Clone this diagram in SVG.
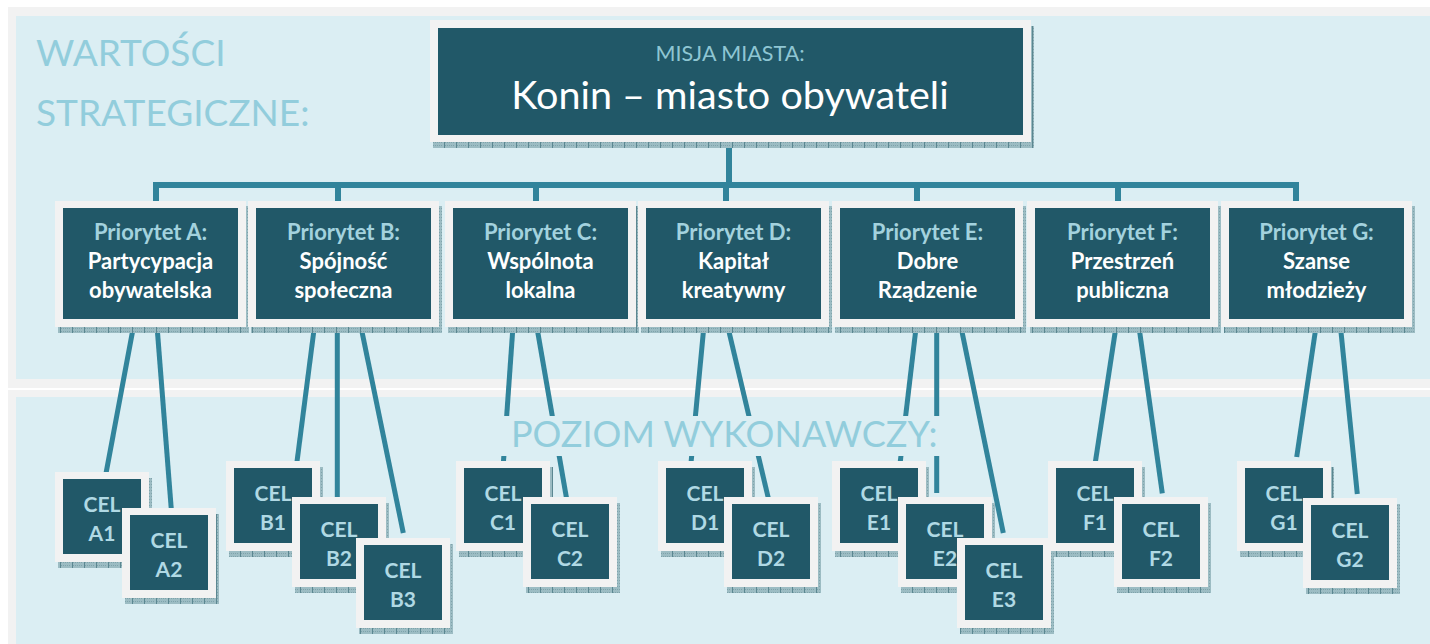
<svg xmlns="http://www.w3.org/2000/svg" width="1430" height="644" viewBox="0 0 1430 644">
<defs>
<pattern id="hatch" patternUnits="userSpaceOnUse" width="12" height="6">
<rect width="12" height="6" fill="#9cbcc3"/>
<path d="M1,1.5h10M1,4.5h10" stroke="#7fa3ab" stroke-width="1" stroke-dasharray="1 1"/>
<path d="M0.5,0V6" stroke="#5b8791" stroke-width="1"/>
</pattern>
<style>
.frame{fill:#f2f2f2}
.dark{fill:#215868}
.sh{fill:url(#hatch)}
.conn{stroke:#31849b;stroke-width:5;fill:none}
.tree{stroke:#31849b;stroke-width:6;fill:none;stroke-linejoin:miter}
.title{font-family:Lato,"Open Sans",sans-serif;font-weight:400;font-size:37px;fill:#92cddc}
.plab{font-family:Lato,"Open Sans",sans-serif;font-weight:700;font-size:22px;fill:#a3d2de;text-anchor:middle}
.pname{font-family:Lato,"Open Sans",sans-serif;font-weight:700;font-size:22px;fill:#ffffff;text-anchor:middle}
.cel{font-family:Lato,"Open Sans",sans-serif;font-weight:700;font-size:21px;fill:#b0d9e4;text-anchor:middle}
</style>
</defs>
<rect width="1430" height="644" fill="#ffffff"/>
<g id="panels">
<rect x="8" y="7" width="1430" height="381" fill="#f2f2f2"/>
<rect x="16" y="16" width="1420" height="363" fill="#dbeef3"/>
<rect x="8" y="390" width="1430" height="260" fill="#f2f2f2"/>
<rect x="16" y="397" width="1420" height="260" fill="#dbeef3"/>
</g>
<g id="title-values">
<text class="title" x="36" y="66">WARTOŚCI</text>
<text class="title" x="36" y="126">STRATEGICZNE:</text>
</g>
<g id="connectors">
<path class="tree" d="M729,140 V185"/>
<path class="tree" d="M156,205 V185 H1296 V205"/>
<path class="tree" d="M338,185 V205 M536,185 V205 M726,185 V205 M917,185 V205 M1118,185 V205"/>
<line class="conn" x1="134.3" y1="322" x2="105.7" y2="475"/>
<line class="conn" x1="156.7" y1="322" x2="171.5" y2="512"/>
<line class="conn" x1="315" y1="322" x2="296.7" y2="464"/>
<line class="conn" x1="337.3" y1="322" x2="337.3" y2="501"/>
<line class="conn" x1="360" y1="322" x2="403.3" y2="533"/>
<line class="conn" x1="513.3" y1="322" x2="503.3" y2="464"/>
<line class="conn" x1="536" y1="322" x2="567" y2="501"/>
<line class="conn" x1="704.3" y1="322" x2="690.9" y2="464"/>
<line class="conn" x1="726.7" y1="322" x2="769" y2="501"/>
<line class="conn" x1="916.7" y1="322" x2="900" y2="464"/>
<line class="conn" x1="936.7" y1="322" x2="936.7" y2="493"/>
<line class="conn" x1="960" y1="322" x2="1003.3" y2="533"/>
<line class="conn" x1="1116.7" y1="322" x2="1095" y2="464.3"/>
<line class="conn" x1="1138.3" y1="322" x2="1162.3" y2="493.3"/>
<line class="conn" x1="1316.7" y1="322" x2="1296.7" y2="457"/>
<line class="conn" x1="1340" y1="322" x2="1357.3" y2="494"/>
</g>
<g id="title-level">
<rect x="498" y="416" width="447" height="40" fill="#dbeef3"/>
<text class="title" x="511" y="447" style="font-size:36px">POZIOM WYKONAWCZY:</text>
</g>
<g id="mission">
<rect class="sh" x="433" y="26" width="601" height="122"/>
<rect class="frame" x="430" y="20" width="601" height="122"/>
<rect class="dark" x="438" y="28" width="585" height="107"/>
<text x="730" y="61" text-anchor="middle" font-family="Lato, 'Open Sans', sans-serif" font-size="21.5" fill="#8fc6d3">MISJA MIASTA:</text>
<text x="730" y="109" text-anchor="middle" font-family="Lato, 'Open Sans', sans-serif" font-size="39.5" fill="#ffffff">Konin – miasto obywateli</text>
</g>
<g id="prio-A">
<rect class="sh" x="58" y="206" width="191" height="127"/><rect class="frame" x="55" y="201" width="191" height="126"/><rect class="dark" x="63" y="208" width="175" height="111"/>
<text class="plab" x="150.5" y="240">Priorytet A:</text><text class="pname" x="150.5" y="269">Partycypacja</text><text class="pname" x="150.5" y="298">obywatelska</text>
</g>
<g id="prio-B">
<rect class="sh" x="251" y="206" width="191" height="127"/><rect class="frame" x="248" y="201" width="191" height="126"/><rect class="dark" x="256" y="208" width="175" height="111"/>
<text class="plab" x="343.5" y="240">Priorytet B:</text><text class="pname" x="343.5" y="269">Spójność</text><text class="pname" x="343.5" y="298">społeczna</text>
</g>
<g id="prio-C">
<rect class="sh" x="448" y="206" width="191" height="127"/><rect class="frame" x="445" y="201" width="191" height="126"/><rect class="dark" x="453" y="208" width="175" height="111"/>
<text class="plab" x="540.5" y="240">Priorytet C:</text><text class="pname" x="540.5" y="269">Wspólnota</text><text class="pname" x="540.5" y="298">lokalna</text>
</g>
<g id="prio-D">
<rect class="sh" x="641" y="206" width="191" height="127"/><rect class="frame" x="638" y="201" width="191" height="126"/><rect class="dark" x="646" y="208" width="175" height="111"/>
<text class="plab" x="733.5" y="240">Priorytet D:</text><text class="pname" x="733.5" y="269">Kapitał</text><text class="pname" x="733.5" y="298">kreatywny</text>
</g>
<g id="prio-E">
<rect class="sh" x="835" y="206" width="191" height="127"/><rect class="frame" x="832" y="201" width="191" height="126"/><rect class="dark" x="840" y="208" width="175" height="111"/>
<text class="plab" x="927.5" y="240">Priorytet E:</text><text class="pname" x="927.5" y="269">Dobre</text><text class="pname" x="927.5" y="298">Rządzenie</text>
</g>
<g id="prio-F">
<rect class="sh" x="1030" y="206" width="191" height="127"/><rect class="frame" x="1027" y="201" width="191" height="126"/><rect class="dark" x="1035" y="208" width="175" height="111"/>
<text class="plab" x="1122.5" y="240">Priorytet F:</text><text class="pname" x="1122.5" y="269">Przestrzeń</text><text class="pname" x="1122.5" y="298">publiczna</text>
</g>
<g id="prio-G">
<rect class="sh" x="1224" y="206" width="191" height="127"/><rect class="frame" x="1221" y="201" width="191" height="126"/><rect class="dark" x="1229" y="208" width="175" height="111"/>
<text class="plab" x="1316.5" y="240">Priorytet G:</text><text class="pname" x="1316.5" y="269">Szanse</text><text class="pname" x="1316.5" y="298">młodzieży</text>
</g>
<g id="cel-A1"><rect class="sh" x="58" y="478" width="94" height="90"/><rect class="frame" x="55" y="472" width="94" height="90"/><rect class="dark" x="63" y="479" width="78" height="75"/><text class="cel" x="102" y="512">CEL</text><text class="cel" x="102" y="541">A1</text></g>
<g id="cel-A2"><rect class="sh" x="125" y="514" width="94" height="90"/><rect class="frame" x="122" y="508" width="94" height="90"/><rect class="dark" x="130" y="515" width="78" height="75"/><text class="cel" x="169" y="548">CEL</text><text class="cel" x="169" y="577">A2</text></g>
<g id="cel-B1"><rect class="sh" x="229" y="467" width="94" height="90"/><rect class="frame" x="226" y="461" width="94" height="90"/><rect class="dark" x="234" y="468" width="78" height="75"/><text class="cel" x="273" y="501">CEL</text><text class="cel" x="273" y="530">B1</text></g>
<g id="cel-B2"><rect class="sh" x="295" y="503" width="94" height="90"/><rect class="frame" x="292" y="497" width="94" height="90"/><rect class="dark" x="300" y="504" width="78" height="75"/><text class="cel" x="339" y="537">CEL</text><text class="cel" x="339" y="566">B2</text></g>
<g id="cel-B3"><rect class="sh" x="359" y="544" width="94" height="90"/><rect class="frame" x="356" y="538" width="94" height="90"/><rect class="dark" x="364" y="545" width="78" height="75"/><text class="cel" x="403" y="578">CEL</text><text class="cel" x="403" y="607">B3</text></g>
<g id="cel-C1"><rect class="sh" x="459" y="467" width="94" height="90"/><rect class="frame" x="456" y="461" width="94" height="90"/><rect class="dark" x="464" y="468" width="78" height="75"/><text class="cel" x="503" y="501">CEL</text><text class="cel" x="503" y="530">C1</text></g>
<g id="cel-C2"><rect class="sh" x="526" y="503" width="94" height="90"/><rect class="frame" x="523" y="497" width="94" height="90"/><rect class="dark" x="531" y="504" width="78" height="75"/><text class="cel" x="570" y="537">CEL</text><text class="cel" x="570" y="566">C2</text></g>
<g id="cel-D1"><rect class="sh" x="661" y="467" width="94" height="90"/><rect class="frame" x="658" y="461" width="94" height="90"/><rect class="dark" x="666" y="468" width="78" height="75"/><text class="cel" x="705" y="501">CEL</text><text class="cel" x="705" y="530">D1</text></g>
<g id="cel-D2"><rect class="sh" x="727" y="503" width="94" height="90"/><rect class="frame" x="724" y="497" width="94" height="90"/><rect class="dark" x="732" y="504" width="78" height="75"/><text class="cel" x="771" y="537">CEL</text><text class="cel" x="771" y="566">D2</text></g>
<g id="cel-E1"><rect class="sh" x="835" y="467" width="94" height="90"/><rect class="frame" x="832" y="461" width="94" height="90"/><rect class="dark" x="840" y="468" width="78" height="75"/><text class="cel" x="879" y="501">CEL</text><text class="cel" x="879" y="530">E1</text></g>
<g id="cel-E2"><rect class="sh" x="901" y="503" width="94" height="90"/><rect class="frame" x="898" y="497" width="94" height="90"/><rect class="dark" x="906" y="504" width="78" height="75"/><text class="cel" x="945" y="537">CEL</text><text class="cel" x="945" y="566">E2</text></g>
<g id="cel-E3"><rect class="sh" x="960" y="544" width="94" height="90"/><rect class="frame" x="957" y="538" width="94" height="90"/><rect class="dark" x="965" y="545" width="78" height="75"/><text class="cel" x="1004" y="578">CEL</text><text class="cel" x="1004" y="607">E3</text></g>
<g id="cel-F1"><rect class="sh" x="1051" y="467" width="94" height="90"/><rect class="frame" x="1048" y="461" width="94" height="90"/><rect class="dark" x="1056" y="468" width="78" height="75"/><text class="cel" x="1095" y="501">CEL</text><text class="cel" x="1095" y="530">F1</text></g>
<g id="cel-F2"><rect class="sh" x="1117" y="503" width="94" height="90"/><rect class="frame" x="1114" y="497" width="94" height="90"/><rect class="dark" x="1122" y="504" width="78" height="75"/><text class="cel" x="1161" y="537">CEL</text><text class="cel" x="1161" y="566">F2</text></g>
<g id="cel-G1"><rect class="sh" x="1240" y="467" width="94" height="90"/><rect class="frame" x="1237" y="461" width="94" height="90"/><rect class="dark" x="1245" y="468" width="78" height="75"/><text class="cel" x="1284" y="501">CEL</text><text class="cel" x="1284" y="530">G1</text></g>
<g id="cel-G2"><rect class="sh" x="1306" y="504" width="94" height="90"/><rect class="frame" x="1303" y="498" width="94" height="90"/><rect class="dark" x="1311" y="505" width="78" height="75"/><text class="cel" x="1350" y="538">CEL</text><text class="cel" x="1350" y="567">G2</text></g>
</svg>
